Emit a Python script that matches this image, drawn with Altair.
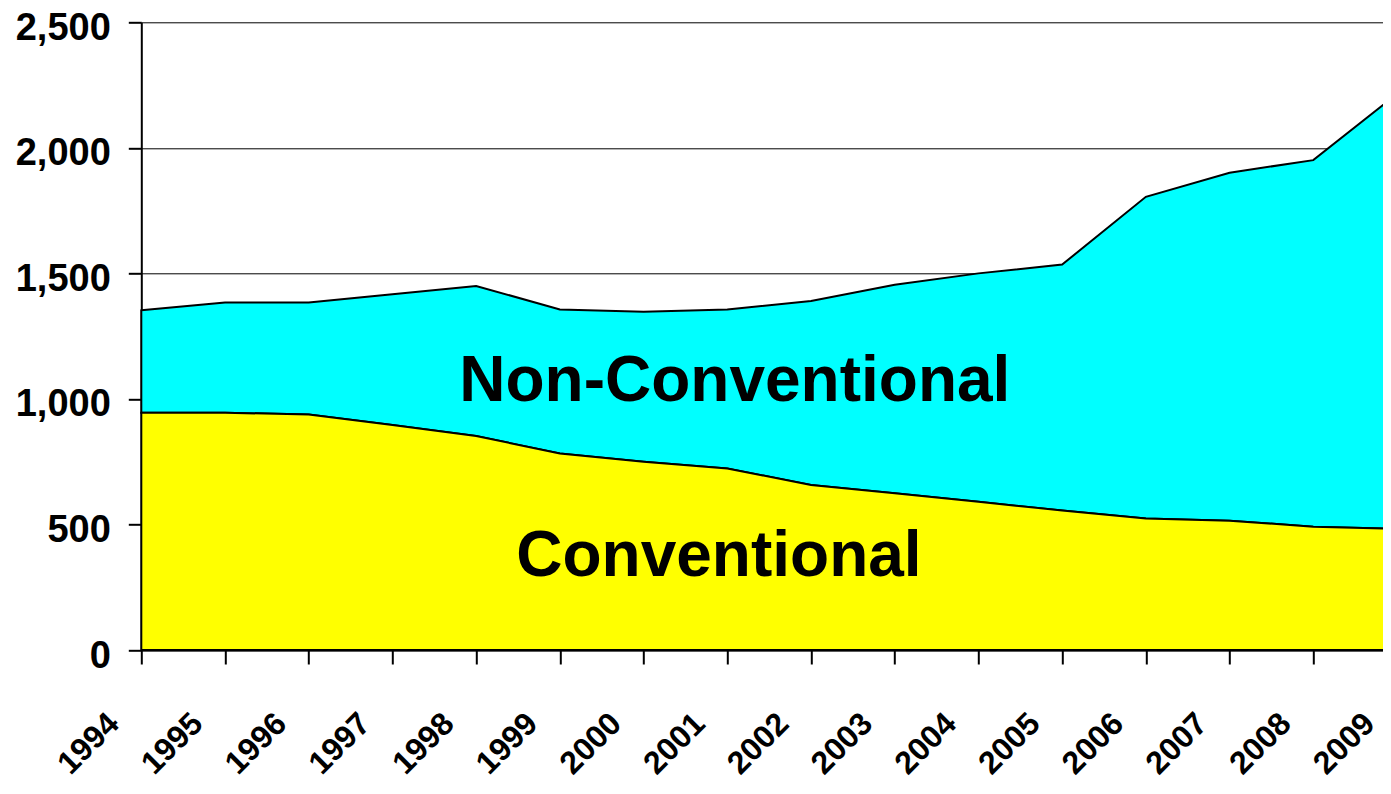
import altair as alt
import pandas as pd

# ---- data ----
years = list(range(1994, 2010))
conventional = [945, 945, 938, 896, 852, 783, 750, 723, 657, 624, 590, 556, 524, 515, 491, 483]
non_conventional = [408, 439, 446, 521, 598, 573, 597, 633, 733, 831, 910, 979, 1281, 1386, 1460, 1732]
y_ticks = [0, 500, 1000, 1500, 2000, 2500]

label_text = ["Non-Conventional", "Conventional"]
label_year = [2001.09, 2000.90]
label_value = [991, 295]

df = pd.DataFrame({"year": years, "conventional": conventional, "non_conventional": non_conventional})
labels = pd.DataFrame({"text": label_text, "year": label_year, "value": label_value})

FONT = "Liberation Sans"

x_scale = alt.Scale(domain=[1994, 2009], nice=False, zero=False)
y_scale = alt.Scale(domain=[0, 2500], nice=False)

x_axis = alt.Axis(
    values=years, format="d", title=None, grid=False,
    labelAngle=-45, labelAlign="right", labelBaseline="middle",
    labelFont=FONT, labelFontWeight="bold", labelFontSize=32, labelColor="black",
    labelOffset=-28, labelPadding=54, labelFlush=False, labelOverlap=False, labelBound=False,
    tickSize=14, tickColor="black", tickWidth=2,
    domainColor="black", domainWidth=2,
)
y_axis = alt.Axis(
    values=y_ticks, format=",.0f", title=None, grid=True,
    gridColor="black", gridWidth=1, gridOpacity=1,
    labelFont=FONT, labelFontWeight="bold", labelFontSize=38, labelColor="black",
    labelPadding=18, labelOffset=6, labelFlush=False, labelOverlap=False,
    tickSize=13, tickColor="black", tickWidth=2,
    domainColor="black", domainWidth=2,
)

base = alt.Chart(df).transform_calculate(total="datum.conventional + datum.non_conventional")

conv_area = base.mark_area(color="#FFFF00", stroke="black", strokeWidth=2, opacity=1).encode(
    x=alt.X("year:Q", scale=x_scale, axis=x_axis),
    y=alt.Y("conventional:Q", scale=y_scale, axis=y_axis),
)

nonconv_area = base.mark_area(color="#00FFFF", stroke="black", strokeWidth=2, opacity=1).encode(
    x=alt.X("year:Q", scale=x_scale),
    y=alt.Y("total:Q", scale=y_scale),
    y2="conventional:Q",
)

text = alt.Chart(labels).mark_text(
    font=FONT, fontWeight="bold", fontSize=64, align="center", baseline="alphabetic", color="black"
).encode(
    x=alt.X("year:Q", scale=x_scale),
    y=alt.Y("value:Q", scale=y_scale),
    text="text:N",
)

chart = alt.layer(nonconv_area, conv_area, text).properties(
    width=1255.7,
    height=627.7,
    autosize=alt.AutoSizeParams(type="none"),
    padding={"left": 133.3, "top": 14.3, "right": -14, "bottom": 135},
    background="white",
).configure_view(stroke=None)

chart.save("out.html", embed_options={"renderer": "svg", "actions": False})
